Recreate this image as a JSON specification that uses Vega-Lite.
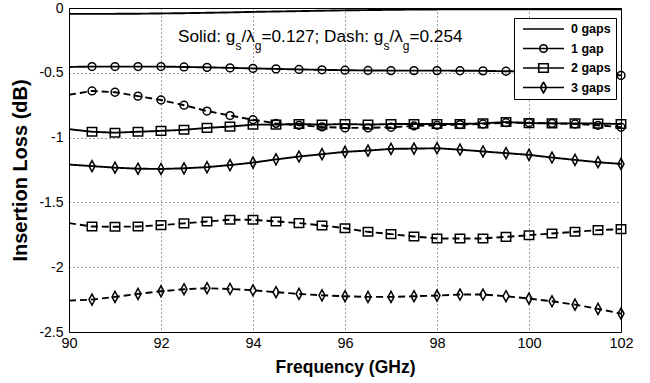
{
  "$schema": "https://vega.github.io/schema/vega-lite/v6.json",
  "width": 552,
  "height": 324,
  "autosize": {"type": "none"},
  "padding": {"left": 69, "top": 8, "right": 29, "bottom": 51},
  "background": "white",
  "config": {
    "view": {"stroke": "black", "strokeWidth": 1},
    "font": "Liberation Sans",
    "axis": {"domain": false, "ticks": false, "labelColor": "black", "titleColor": "black", "grid": true, "gridColor": "black", "gridDash": [1, 3], "gridOpacity": 0.75, "gridWidth": 1, "labelFont": "Liberation Sans", "titleFont": "Liberation Sans", "titleFontWeight": "bold"}
  },
  "resolve": {"scale": {"shape": "independent"}, "legend": {"shape": "independent"}},
  "datasets": {
    "curves": [
      {"f":90,"v":-0.045,"g":"0 gaps","r":"0.127"},{"f":90.5,"v":-0.045,"g":"0 gaps","r":"0.127"},{"f":91,"v":-0.045,"g":"0 gaps","r":"0.127"},{"f":91.5,"v":-0.044,"g":"0 gaps","r":"0.127"},{"f":92,"v":-0.042,"g":"0 gaps","r":"0.127"},{"f":92.5,"v":-0.04,"g":"0 gaps","r":"0.127"},{"f":93,"v":-0.037,"g":"0 gaps","r":"0.127"},{"f":93.5,"v":-0.034,"g":"0 gaps","r":"0.127"},{"f":94,"v":-0.03,"g":"0 gaps","r":"0.127"},{"f":94.5,"v":-0.027,"g":"0 gaps","r":"0.127"},{"f":95,"v":-0.024,"g":"0 gaps","r":"0.127"},{"f":95.5,"v":-0.021,"g":"0 gaps","r":"0.127"},{"f":96,"v":-0.018,"g":"0 gaps","r":"0.127"},{"f":96.5,"v":-0.016,"g":"0 gaps","r":"0.127"},{"f":97,"v":-0.014,"g":"0 gaps","r":"0.127"},{"f":97.5,"v":-0.012,"g":"0 gaps","r":"0.127"},{"f":98,"v":-0.011,"g":"0 gaps","r":"0.127"},{"f":98.5,"v":-0.01,"g":"0 gaps","r":"0.127"},{"f":99,"v":-0.01,"g":"0 gaps","r":"0.127"},{"f":99.5,"v":-0.01,"g":"0 gaps","r":"0.127"},{"f":100,"v":-0.01,"g":"0 gaps","r":"0.127"},{"f":100.5,"v":-0.01,"g":"0 gaps","r":"0.127"},{"f":101,"v":-0.01,"g":"0 gaps","r":"0.127"},{"f":101.5,"v":-0.01,"g":"0 gaps","r":"0.127"},{"f":102,"v":-0.01,"g":"0 gaps","r":"0.127"},

      {"f":90,"v":-0.455,"g":"1 gap","r":"0.127"},{"f":90.5,"v":-0.452,"g":"1 gap","r":"0.127"},{"f":91,"v":-0.452,"g":"1 gap","r":"0.127"},{"f":91.5,"v":-0.452,"g":"1 gap","r":"0.127"},{"f":92,"v":-0.452,"g":"1 gap","r":"0.127"},{"f":92.5,"v":-0.455,"g":"1 gap","r":"0.127"},{"f":93,"v":-0.458,"g":"1 gap","r":"0.127"},{"f":93.5,"v":-0.462,"g":"1 gap","r":"0.127"},{"f":94,"v":-0.466,"g":"1 gap","r":"0.127"},{"f":94.5,"v":-0.47,"g":"1 gap","r":"0.127"},{"f":95,"v":-0.474,"g":"1 gap","r":"0.127"},{"f":95.5,"v":-0.477,"g":"1 gap","r":"0.127"},{"f":96,"v":-0.48,"g":"1 gap","r":"0.127"},{"f":96.5,"v":-0.482,"g":"1 gap","r":"0.127"},{"f":97,"v":-0.483,"g":"1 gap","r":"0.127"},{"f":97.5,"v":-0.483,"g":"1 gap","r":"0.127"},{"f":98,"v":-0.483,"g":"1 gap","r":"0.127"},{"f":98.5,"v":-0.484,"g":"1 gap","r":"0.127"},{"f":99,"v":-0.485,"g":"1 gap","r":"0.127"},{"f":99.5,"v":-0.488,"g":"1 gap","r":"0.127"},{"f":100,"v":-0.49,"g":"1 gap","r":"0.127"},{"f":100.5,"v":-0.494,"g":"1 gap","r":"0.127"},{"f":101,"v":-0.5,"g":"1 gap","r":"0.127"},{"f":101.5,"v":-0.508,"g":"1 gap","r":"0.127"},{"f":102,"v":-0.52,"g":"1 gap","r":"0.127"},

      {"f":90,"v":-0.67,"g":"1 gap","r":"0.254"},{"f":90.5,"v":-0.64,"g":"1 gap","r":"0.254"},{"f":91,"v":-0.65,"g":"1 gap","r":"0.254"},{"f":91.5,"v":-0.68,"g":"1 gap","r":"0.254"},{"f":92,"v":-0.71,"g":"1 gap","r":"0.254"},{"f":92.5,"v":-0.75,"g":"1 gap","r":"0.254"},{"f":93,"v":-0.795,"g":"1 gap","r":"0.254"},{"f":93.5,"v":-0.83,"g":"1 gap","r":"0.254"},{"f":94,"v":-0.862,"g":"1 gap","r":"0.254"},{"f":94.5,"v":-0.89,"g":"1 gap","r":"0.254"},{"f":95,"v":-0.905,"g":"1 gap","r":"0.254"},{"f":95.5,"v":-0.918,"g":"1 gap","r":"0.254"},{"f":96,"v":-0.925,"g":"1 gap","r":"0.254"},{"f":96.5,"v":-0.925,"g":"1 gap","r":"0.254"},{"f":97,"v":-0.92,"g":"1 gap","r":"0.254"},{"f":97.5,"v":-0.91,"g":"1 gap","r":"0.254"},{"f":98,"v":-0.905,"g":"1 gap","r":"0.254"},{"f":98.5,"v":-0.9,"g":"1 gap","r":"0.254"},{"f":99,"v":-0.895,"g":"1 gap","r":"0.254"},{"f":99.5,"v":-0.885,"g":"1 gap","r":"0.254"},{"f":100,"v":-0.885,"g":"1 gap","r":"0.254"},{"f":100.5,"v":-0.89,"g":"1 gap","r":"0.254"},{"f":101,"v":-0.895,"g":"1 gap","r":"0.254"},{"f":101.5,"v":-0.905,"g":"1 gap","r":"0.254"},{"f":102,"v":-0.92,"g":"1 gap","r":"0.254"},

      {"f":90,"v":-0.935,"g":"2 gaps","r":"0.127"},{"f":90.5,"v":-0.955,"g":"2 gaps","r":"0.127"},{"f":91,"v":-0.962,"g":"2 gaps","r":"0.127"},{"f":91.5,"v":-0.955,"g":"2 gaps","r":"0.127"},{"f":92,"v":-0.948,"g":"2 gaps","r":"0.127"},{"f":92.5,"v":-0.94,"g":"2 gaps","r":"0.127"},{"f":93,"v":-0.925,"g":"2 gaps","r":"0.127"},{"f":93.5,"v":-0.915,"g":"2 gaps","r":"0.127"},{"f":94,"v":-0.9,"g":"2 gaps","r":"0.127"},{"f":94.5,"v":-0.9,"g":"2 gaps","r":"0.127"},{"f":95,"v":-0.895,"g":"2 gaps","r":"0.127"},{"f":95.5,"v":-0.9,"g":"2 gaps","r":"0.127"},{"f":96,"v":-0.895,"g":"2 gaps","r":"0.127"},{"f":96.5,"v":-0.9,"g":"2 gaps","r":"0.127"},{"f":97,"v":-0.895,"g":"2 gaps","r":"0.127"},{"f":97.5,"v":-0.895,"g":"2 gaps","r":"0.127"},{"f":98,"v":-0.895,"g":"2 gaps","r":"0.127"},{"f":98.5,"v":-0.895,"g":"2 gaps","r":"0.127"},{"f":99,"v":-0.89,"g":"2 gaps","r":"0.127"},{"f":99.5,"v":-0.88,"g":"2 gaps","r":"0.127"},{"f":100,"v":-0.888,"g":"2 gaps","r":"0.127"},{"f":100.5,"v":-0.89,"g":"2 gaps","r":"0.127"},{"f":101,"v":-0.89,"g":"2 gaps","r":"0.127"},{"f":101.5,"v":-0.892,"g":"2 gaps","r":"0.127"},{"f":102,"v":-0.895,"g":"2 gaps","r":"0.127"},

      {"f":90,"v":-1.66,"g":"2 gaps","r":"0.254"},{"f":90.5,"v":-1.686,"g":"2 gaps","r":"0.254"},{"f":91,"v":-1.688,"g":"2 gaps","r":"0.254"},{"f":91.5,"v":-1.686,"g":"2 gaps","r":"0.254"},{"f":92,"v":-1.675,"g":"2 gaps","r":"0.254"},{"f":92.5,"v":-1.662,"g":"2 gaps","r":"0.254"},{"f":93,"v":-1.647,"g":"2 gaps","r":"0.254"},{"f":93.5,"v":-1.634,"g":"2 gaps","r":"0.254"},{"f":94,"v":-1.634,"g":"2 gaps","r":"0.254"},{"f":94.5,"v":-1.647,"g":"2 gaps","r":"0.254"},{"f":95,"v":-1.66,"g":"2 gaps","r":"0.254"},{"f":95.5,"v":-1.678,"g":"2 gaps","r":"0.254"},{"f":96,"v":-1.699,"g":"2 gaps","r":"0.254"},{"f":96.5,"v":-1.727,"g":"2 gaps","r":"0.254"},{"f":97,"v":-1.745,"g":"2 gaps","r":"0.254"},{"f":97.5,"v":-1.763,"g":"2 gaps","r":"0.254"},{"f":98,"v":-1.778,"g":"2 gaps","r":"0.254"},{"f":98.5,"v":-1.778,"g":"2 gaps","r":"0.254"},{"f":99,"v":-1.778,"g":"2 gaps","r":"0.254"},{"f":99.5,"v":-1.766,"g":"2 gaps","r":"0.254"},{"f":100,"v":-1.753,"g":"2 gaps","r":"0.254"},{"f":100.5,"v":-1.74,"g":"2 gaps","r":"0.254"},{"f":101,"v":-1.727,"g":"2 gaps","r":"0.254"},{"f":101.5,"v":-1.714,"g":"2 gaps","r":"0.254"},{"f":102,"v":-1.706,"g":"2 gaps","r":"0.254"},

      {"f":90,"v":-1.208,"g":"3 gaps","r":"0.127"},{"f":90.5,"v":-1.22,"g":"3 gaps","r":"0.127"},{"f":91,"v":-1.232,"g":"3 gaps","r":"0.127"},{"f":91.5,"v":-1.24,"g":"3 gaps","r":"0.127"},{"f":92,"v":-1.242,"g":"3 gaps","r":"0.127"},{"f":92.5,"v":-1.237,"g":"3 gaps","r":"0.127"},{"f":93,"v":-1.228,"g":"3 gaps","r":"0.127"},{"f":93.5,"v":-1.212,"g":"3 gaps","r":"0.127"},{"f":94,"v":-1.193,"g":"3 gaps","r":"0.127"},{"f":94.5,"v":-1.168,"g":"3 gaps","r":"0.127"},{"f":95,"v":-1.146,"g":"3 gaps","r":"0.127"},{"f":95.5,"v":-1.128,"g":"3 gaps","r":"0.127"},{"f":96,"v":-1.11,"g":"3 gaps","r":"0.127"},{"f":96.5,"v":-1.1,"g":"3 gaps","r":"0.127"},{"f":97,"v":-1.087,"g":"3 gaps","r":"0.127"},{"f":97.5,"v":-1.085,"g":"3 gaps","r":"0.127"},{"f":98,"v":-1.082,"g":"3 gaps","r":"0.127"},{"f":98.5,"v":-1.093,"g":"3 gaps","r":"0.127"},{"f":99,"v":-1.107,"g":"3 gaps","r":"0.127"},{"f":99.5,"v":-1.12,"g":"3 gaps","r":"0.127"},{"f":100,"v":-1.133,"g":"3 gaps","r":"0.127"},{"f":100.5,"v":-1.154,"g":"3 gaps","r":"0.127"},{"f":101,"v":-1.172,"g":"3 gaps","r":"0.127"},{"f":101.5,"v":-1.19,"g":"3 gaps","r":"0.127"},{"f":102,"v":-1.203,"g":"3 gaps","r":"0.127"},

      {"f":90,"v":-2.258,"g":"3 gaps","r":"0.254"},{"f":90.5,"v":-2.25,"g":"3 gaps","r":"0.254"},{"f":91,"v":-2.229,"g":"3 gaps","r":"0.254"},{"f":91.5,"v":-2.206,"g":"3 gaps","r":"0.254"},{"f":92,"v":-2.186,"g":"3 gaps","r":"0.254"},{"f":92.5,"v":-2.17,"g":"3 gaps","r":"0.254"},{"f":93,"v":-2.162,"g":"3 gaps","r":"0.254"},{"f":93.5,"v":-2.168,"g":"3 gaps","r":"0.254"},{"f":94,"v":-2.178,"g":"3 gaps","r":"0.254"},{"f":94.5,"v":-2.193,"g":"3 gaps","r":"0.254"},{"f":95,"v":-2.206,"g":"3 gaps","r":"0.254"},{"f":95.5,"v":-2.217,"g":"3 gaps","r":"0.254"},{"f":96,"v":-2.224,"g":"3 gaps","r":"0.254"},{"f":96.5,"v":-2.229,"g":"3 gaps","r":"0.254"},{"f":97,"v":-2.229,"g":"3 gaps","r":"0.254"},{"f":97.5,"v":-2.224,"g":"3 gaps","r":"0.254"},{"f":98,"v":-2.219,"g":"3 gaps","r":"0.254"},{"f":98.5,"v":-2.211,"g":"3 gaps","r":"0.254"},{"f":99,"v":-2.211,"g":"3 gaps","r":"0.254"},{"f":99.5,"v":-2.224,"g":"3 gaps","r":"0.254"},{"f":100,"v":-2.242,"g":"3 gaps","r":"0.254"},{"f":100.5,"v":-2.263,"g":"3 gaps","r":"0.254"},{"f":101,"v":-2.289,"g":"3 gaps","r":"0.254"},{"f":101.5,"v":-2.322,"g":"3 gaps","r":"0.254"},{"f":102,"v":-2.358,"g":"3 gaps","r":"0.254"}
    ],
    "notes": [
      {"x":92.370,"y":-0.259,"t":"Solid: g","k":"main"},
      {"x":93.617,"y":-0.325,"t":"s","k":"sub"},
      {"x":93.748,"y":-0.259,"t":"/λ","k":"main"},
      {"x":94.039,"y":-0.325,"t":"g","k":"sub"},
      {"x":94.185,"y":-0.259,"t":"=0.127; Dash: g","k":"main"},
      {"x":96.835,"y":-0.325,"t":"s","k":"sub"},
      {"x":96.965,"y":-0.259,"t":"/λ","k":"main"},
      {"x":97.257,"y":-0.325,"t":"g","k":"sub"},
      {"x":97.402,"y":-0.259,"t":"=0.254","k":"main"}
    ]
  },
  "layer": [
    {
      "data": {"name": "curves"},
      "mark": {"type": "line", "color": "black", "strokeWidth": 1.9, "clip": true},
      "encoding": {
        "x": {"field": "f", "type": "quantitative", "scale": {"domain": [90, 102], "nice": false, "zero": false},
              "axis": {"values": [90, 92, 94, 96, 98, 100, 102], "labelFlush": false, "labelFontSize": 14.5, "labelPadding": 4, "title": "Frequency (GHz)", "titleFontSize": 17.5, "titlePadding": 9}},
        "y": {"field": "v", "type": "quantitative", "scale": {"domain": [-2.5, 0], "nice": false, "zero": false},
              "axis": {"values": [0, -0.5, -1, -1.5, -2, -2.5], "labelExpr": "'' + datum.value", "labelFontSize": 14, "labelPadding": 6, "title": "Insertion Loss (dB)", "titleFontSize": 20, "titlePadding": 8}},
        "detail": [{"field": "g"}, {"field": "r"}],
        "strokeDash": {"field": "r", "type": "nominal", "scale": {"domain": ["0.127", "0.254"], "range": [[1, 0], [7, 4]]}, "legend": null}
      }
    },
    {
      "data": {"name": "curves"},
      "transform": [{"filter": "datum.f > 90 && datum.g != '0 gaps'"}],
      "mark": {"type": "point", "filled": false, "stroke": "black", "strokeWidth": 1.5, "size": 100, "opacity": 1},
      "encoding": {
        "x": {"field": "f", "type": "quantitative"},
        "y": {"field": "v", "type": "quantitative"},
        "shape": {
          "field": "g", "type": "nominal",
          "scale": {"domain": ["0 gaps", "1 gap", "2 gaps", "3 gaps"],
                    "range": ["M0.78,0A0.78,0.78,0,1,1,-0.78,0A0.78,0.78,0,1,1,0.78,0", "M0.78,0A0.78,0.78,0,1,1,-0.78,0A0.78,0.78,0,1,1,0.78,0", "M-0.94,-0.86L0.94,-0.86L0.94,0.86L-0.94,0.86Z", "M0,-1.1L0.6,0L0,1.1L-0.6,0Z"]},
          "legend": null
        }
      }
    },
    {
      "data": {"name": "curves"},
      "transform": [{"filter": "false"}],
      "mark": {"type": "point", "filled": false, "stroke": "black", "strokeWidth": 1.6, "opacity": 1},
      "encoding": {
        "x": {"field": "f", "type": "quantitative"},
        "y": {"field": "v", "type": "quantitative"},
        "shape": {
          "field": "g", "type": "nominal",
          "scale": {"domain": ["0 gaps", "1 gap", "2 gaps", "3 gaps"],
                    "range": ["M-1,0L1,0", "M-1,0L1,0M0.183,0A0.183,0.183,0,1,1,-0.183,0A0.183,0.183,0,1,1,0.183,0", "M-1,0L1,0M-0.232,-0.21L0.232,-0.21L0.232,0.21L-0.232,0.21Z", "M-1,0L1,0M0,-0.268L0.146,0L0,0.268L-0.146,0Z"]},
          "legend": {
            "title": null, "orient": "none", "legendX": 445, "legendY": 10,
            "padding": 5, "strokeColor": "black", "fillColor": "white",
            "symbolSize": 1681, "clipHeight": 12, "rowPadding": 6.5,
            "symbolOffset": 3, "labelOffset": 6,
            "labelFont": "Liberation Sans", "labelFontWeight": "bold", "labelFontSize": 12.5, "labelColor": "black",
            "symbolStrokeWidth": 1.6, "symbolStrokeColor": "black", "symbolFillColor": "transparent"
          }
        }
      }
    },
    {
      "data": {"name": "notes"},
      "transform": [{"filter": "datum.k == 'main'"}],
      "mark": {"type": "text", "align": "left", "baseline": "alphabetic", "fontSize": 17.2, "font": "Liberation Sans", "color": "black"},
      "encoding": {
        "x": {"field": "x", "type": "quantitative"},
        "y": {"field": "y", "type": "quantitative"},
        "text": {"field": "t"}
      }
    },
    {
      "data": {"name": "notes"},
      "transform": [{"filter": "datum.k == 'sub'"}],
      "mark": {"type": "text", "align": "left", "baseline": "alphabetic", "fontSize": 12, "font": "Liberation Sans", "color": "black"},
      "encoding": {
        "x": {"field": "x", "type": "quantitative"},
        "y": {"field": "y", "type": "quantitative"},
        "text": {"field": "t"}
      }
    }
  ]
}
